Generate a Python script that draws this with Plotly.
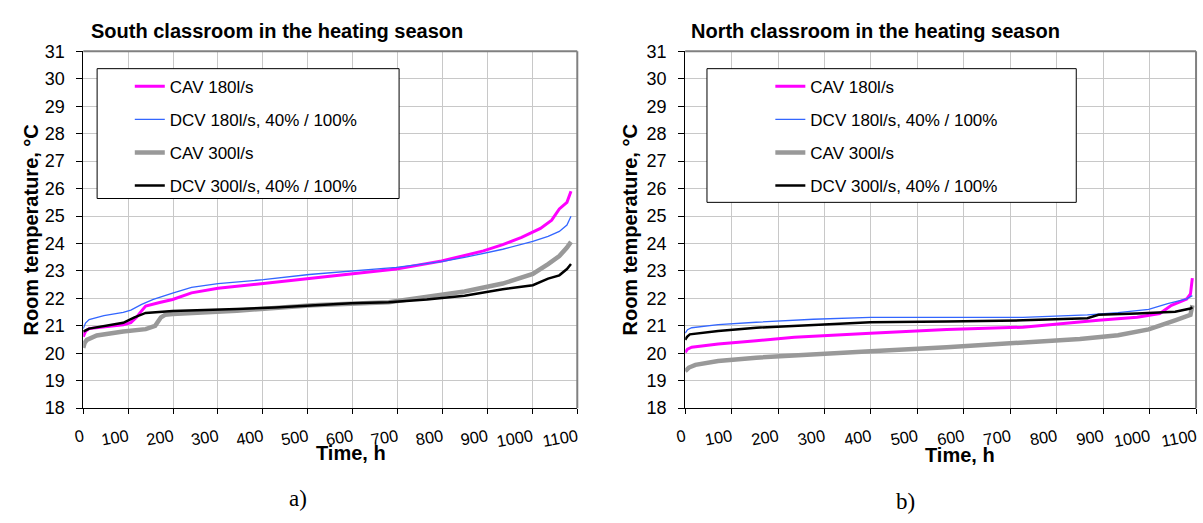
import plotly.graph_objects as go

W, H = 1203, 523

# ---------------- data ----------------
series_names = ["CAV 180l/s", "DCV 180l/s, 40% / 100%", "CAV 300l/s", "DCV 300l/s, 40% / 100%"]

# South classroom
south_cav180_h = [0, 5, 13, 50, 89, 106, 118, 127, 139, 170, 199, 241, 300, 401, 503, 596, 697, 798, 849, 891, 934, 976, 1018, 1043, 1060, 1077, 1086]
south_cav180_t = [20.6, 20.8, 20.9, 20.98, 21.04, 21.12, 21.3, 21.49, 21.72, 21.85, 21.96, 22.2, 22.37, 22.54, 22.72, 22.87, 23.07, 23.36, 23.55, 23.73, 23.96, 24.22, 24.55, 24.85, 25.26, 25.5, 25.9]

south_dcv180_h = [0, 5, 13, 46, 89, 106, 130, 156, 199, 241, 300, 401, 503, 596, 697, 798, 849, 934, 1001, 1035, 1060, 1077, 1086]
south_dcv180_t = [20.9, 21.1, 21.23, 21.37, 21.49, 21.57, 21.78, 21.96, 22.19, 22.4, 22.54, 22.68, 22.87, 22.99, 23.13, 23.34, 23.49, 23.79, 24.08, 24.26, 24.44, 24.67, 24.99]

south_cav300_h = [0, 3, 8, 30, 89, 139, 160, 173, 182, 199, 342, 511, 680, 765, 849, 934, 1001, 1035, 1060, 1077, 1086]
south_cav300_t = [20.2, 20.38, 20.49, 20.65, 20.79, 20.88, 21.0, 21.31, 21.4, 21.43, 21.55, 21.75, 21.86, 22.04, 22.25, 22.54, 22.89, 23.25, 23.54, 23.85, 24.06]

south_dcv300_h = [0, 13, 89, 114, 139, 199, 342, 427, 596, 680, 765, 849, 934, 1001, 1035, 1060, 1077, 1086]
south_dcv300_t = [20.79, 20.9, 21.11, 21.31, 21.47, 21.54, 21.61, 21.67, 21.82, 21.86, 21.96, 22.1, 22.33, 22.48, 22.72, 22.84, 23.07, 23.25]

# North classroom
north_cav180_h = [0, 5, 14, 71, 153, 235, 399, 563, 727, 809, 890, 973, 1022, 1047, 1080, 1088, 1092]
north_cav180_t = [20.03, 20.15, 20.22, 20.34, 20.46, 20.58, 20.73, 20.87, 20.95, 21.08, 21.2, 21.31, 21.45, 21.75, 21.98, 22.16, 22.74]

north_dcv180_h = [0, 5, 14, 71, 153, 276, 399, 727, 866, 932, 998, 1039, 1080, 1088, 1092]
north_dcv180_t = [20.73, 20.86, 20.93, 21.04, 21.13, 21.24, 21.31, 21.31, 21.4, 21.48, 21.6, 21.81, 21.98, 22.06, 22.1]

north_cav300_h = [0, 8, 22, 71, 153, 235, 399, 563, 727, 850, 932, 998, 1055, 1088, 1092]
north_cav300_t = [19.35, 19.48, 19.58, 19.72, 19.84, 19.93, 20.07, 20.22, 20.38, 20.52, 20.66, 20.87, 21.2, 21.4, 21.75]

north_dcv300_h = [0, 4, 10, 71, 153, 276, 399, 563, 727, 866, 890, 973, 1055, 1088, 1092]
north_dcv300_t = [20.49, 20.6, 20.69, 20.81, 20.93, 21.04, 21.13, 21.16, 21.2, 21.28, 21.4, 21.45, 21.51, 21.63, 21.68]

x_ticks = list(range(0, 1101, 100))
y_ticks = list(range(18, 32))

# ---------------- styles ----------------
colors = ["#FF00FF", "#3366FF", "#999999", "#000000"]
widths = [3, 1.3, 4.5, 2.5]

def px(v):
    return v / W

def py(v):
    return 1 - v / H

fig = go.Figure()

south = [(south_cav180_h, south_cav180_t), (south_dcv180_h, south_dcv180_t),
         (south_cav300_h, south_cav300_t), (south_dcv300_h, south_dcv300_t)]
north = [(north_cav180_h, north_cav180_t), (north_dcv180_h, north_dcv180_t),
         (north_cav300_h, north_cav300_t), (north_dcv300_h, north_dcv300_t)]

for i, (hx, ty) in enumerate(south):
    fig.add_trace(go.Scatter(x=hx, y=ty, mode="lines", name=series_names[i],
                             line=dict(color=colors[i], width=widths[i]),
                             xaxis="x", yaxis="y", legend="legend",
                             legendgroup="s%d" % i))
for i, (hx, ty) in enumerate(north):
    fig.add_trace(go.Scatter(x=hx, y=ty, mode="lines", name=series_names[i],
                             line=dict(color=colors[i], width=widths[i]),
                             xaxis="x2", yaxis="y2", legend="legend2",
                             legendgroup="n%d" % i))

FONT = "Liberation Sans, Arial, sans-serif"
grid = "#c8c8c8"

plot_top, plot_bot = 43, 414
ydom = [py(plot_bot), py(plot_top)]

def xaxis(dom, anchor):
    return dict(domain=dom, anchor=anchor, range=[0, 1100], tickvals=x_ticks,
                tickangle=-10, tickfont=dict(family=FONT, size=16.5, color="#000"),
                showgrid=True, gridcolor=grid, gridwidth=1, zeroline=False,
                showline=True, linecolor="#000", linewidth=1,
                ticks="outside", ticklen=5, tickcolor="#000",
                ticklabelstandoff=7, fixedrange=True)

def yaxis(anchor):
    return dict(domain=ydom, anchor=anchor, range=[18, 31], tickvals=y_ticks,
                tickfont=dict(family=FONT, size=18, color="#000"),
                showgrid=True, gridcolor=grid, gridwidth=1, zeroline=False,
                showline=True, linecolor="#000", linewidth=1,
                ticks="outside", ticklen=6, tickcolor="#000",
                ticklabelstandoff=8, fixedrange=True)

def legend(x_left, y_top):
    return dict(x=px(x_left), y=py(y_top), xanchor="left", yanchor="top",
                bgcolor="rgba(0,0,0,0)", borderwidth=0,
                font=dict(family=FONT, size=17, color="#000"),
                traceorder="grouped", tracegroupgap=8, indentation=0)

fig.update_layout(
    width=W, height=H, margin=dict(l=0, r=0, t=0, b=0),
    paper_bgcolor="white", plot_bgcolor="white",
    xaxis=xaxis([px(74), px(573)], "y"),
    yaxis=yaxis("x"),
    xaxis2=xaxis([px(682), px(1198)], "y2"),
    yaxis2=yaxis("x2"),
    legend=legend(121, 61),
    legend2=legend(768, 61),
)

shapes = []
for xr, yr in (("x domain", "y domain"), ("x2 domain", "y2 domain")):
    shapes.append(dict(type="line", xref=xr, yref=yr, x0=0, x1=1, y0=1, y1=1,
                       line=dict(color="#808080", width=2), layer="above"))
    shapes.append(dict(type="line", xref=xr, yref=yr, x0=1, x1=1, y0=0, y1=1,
                       line=dict(color="#808080", width=2), layer="above"))
# legend boxes
for (x0, x1, y0, y1) in ((88, 393, 61, 196), (704, 1077, 61, 200)):
    shapes.append(dict(type="rect", xref="paper", yref="paper",
                       x0=px(x0), x1=px(x1), y0=py(y1), y1=py(y0),
                       line=dict(color="#000", width=1), fillcolor="white", layer="above"))
fig.update_layout(shapes=shapes)

ann = []
ann.append(dict(text="<b>South classroom in the heating season</b>", x=px(80), y=py(22),
                xref="paper", yref="paper", xanchor="left", yanchor="middle", showarrow=False,
                font=dict(family=FONT, size=20, color="#000")))
ann.append(dict(text="<b>North classroom in the heating season</b>", x=px(686), y=py(22),
                xref="paper", yref="paper", xanchor="left", yanchor="middle", showarrow=False,
                font=dict(family=FONT, size=20, color="#000")))
for xc, yc in ((344, 461), (960, 463)):
    ann.append(dict(text="<b>Time, h</b>", x=px(xc), y=py(yc), xref="paper", yref="paper",
                    xanchor="center", yanchor="middle", showarrow=False,
                    font=dict(family=FONT, size=20, color="#000")))
for xc in (21, 626):
    ann.append(dict(text="<b>Room temperature, °C</b>", x=px(xc), y=py((plot_top + plot_bot) / 2),
                    xref="paper", yref="paper", xanchor="center", yanchor="middle",
                    showarrow=False, textangle=-90,
                    font=dict(family=FONT, size=20, color="#000")))
for txt, xc, yc in (("a)", 291, 508), ("b)", 905, 511)):
    ann.append(dict(text=txt, x=px(xc), y=py(yc), xref="paper", yref="paper",
                    xanchor="center", yanchor="middle", showarrow=False,
                    font=dict(family="Liberation Serif, Times New Roman, serif", size=23, color="#000")))
fig.update_layout(annotations=ann)

fig.write_html("out.html")
